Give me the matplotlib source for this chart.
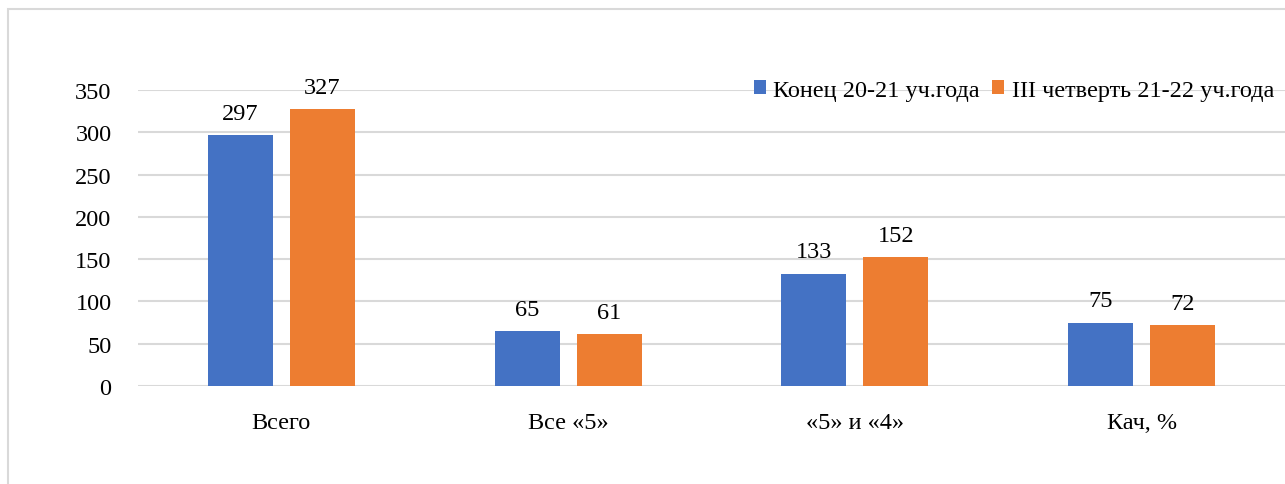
import matplotlib.pyplot as plt
import numpy as np
from matplotlib.patches import Rectangle

categories = ['Всего', 'Все «5»', '«5» и «4»', 'Кач, %']
series_names = ['Конец 20-21 уч.года', 'III четверть 21-22 уч.года']
end_2021 = [297, 65, 133, 75]
q3_2122 = [327, 61, 152, 72]
colors = ['#4472C4', '#ED7D31']

plt.rcParams['font.family'] = ['Liberation Serif', 'DejaVu Serif']

fig = plt.figure(figsize=(12.85, 4.85), dpi=100)
fig.patches.append(Rectangle((8 / 1285, -0.1), 1.2, 1 - 10 / 485 + 0.1,
                             transform=fig.transFigure, fill=False,
                             edgecolor='#d9d9d9', linewidth=1.5))
ax = fig.add_axes([138 / 1285, 1 - 387 / 485, 1 - 138 / 1285, 296 / 485])

x = np.arange(len(categories))
w = 65 / 287
gap = 17 / 287
b1 = ax.bar(x - (w + gap) / 2, end_2021, w, color=colors[0], label=series_names[0])
b2 = ax.bar(x + (w + gap) / 2, q3_2122, w, color=colors[1], label=series_names[1])

for bars, vals in [(b1, end_2021), (b2, q3_2122)]:
    for b, v in zip(bars, vals):
        ax.annotate(str(v), (b.get_x() + b.get_width() / 2, v),
                    xytext=(0, 8), textcoords='offset points',
                    ha='center', va='bottom', fontsize=17.5, color='black',
                    annotation_clip=False)

ax.set_xlim(-0.5, len(categories) - 0.5)
ax.set_ylim(0, 350)
ax.set_yticks(range(0, 351, 50))
ax.set_xticks(x)
ax.set_xticklabels(categories)
ax.grid(axis='y', color='#d9d9d9', linewidth=1.5)
ax.set_axisbelow(True)
for s in ax.spines.values():
    s.set_visible(False)
ax.tick_params(axis='both', length=0, labelsize=17.5, colors='black')
ax.tick_params(axis='y', pad=19)
ax.tick_params(axis='x', pad=19)

fig.legend(loc='center right', bbox_to_anchor=(0.999, 1 - 91 / 485), ncol=2,
           frameon=False, fontsize=17.5, handlelength=0.5, handleheight=0.5,
           handletextpad=0.3, columnspacing=0.5, borderaxespad=0)

fig.savefig('out.png', dpi=100)
